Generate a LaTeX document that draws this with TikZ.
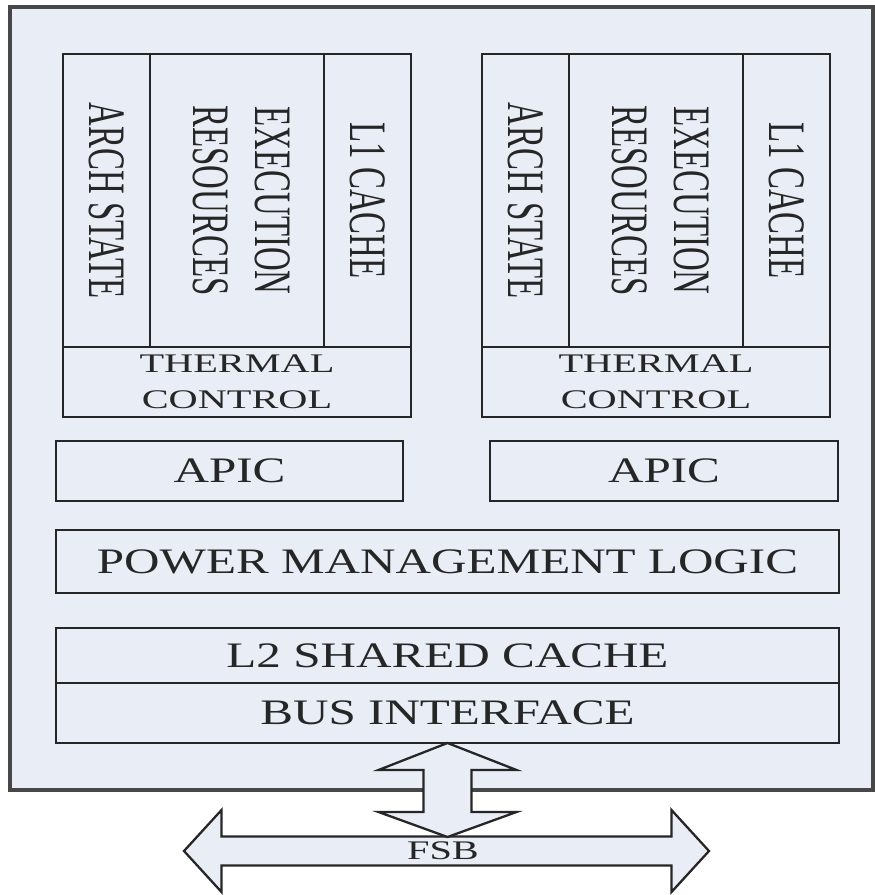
\documentclass[tikz,border=0pt]{standalone}
\usepackage{fontspec}
\setmainfont{Liberation Serif}
\usetikzlibrary{positioning}

\definecolor{chipfill}{HTML}{E8EDF6}
\definecolor{ink}{HTML}{262626}

% stretched labels, as in the printed figure
\newcommand{\hlabel}[1]{\scalebox{1.37}[1]{#1}}
\newcommand{\tlabel}[1]{\scalebox{1.5}[1]{#1}}
\newcommand{\vlabel}[1]{\rotatebox{-90}{\scalebox{1}[1.6]{#1}}}

\begin{document}
\begin{tikzpicture}[
  font=\fontsize{20.4}{24}\selectfont,
  chipbox/.style={draw=black!72, line width=2pt, fill=chipfill,
                  inner sep=0pt, outer sep=0pt, anchor=north west},
  blk/.style={draw=ink, line width=1.6pt, fill=chipfill, inner sep=0pt,
              outer sep=0pt, text=ink, align=center},
  colbox/.style={blk, minimum height=5.86cm, font=\fontsize{18.7}{22}\selectfont},
  thermbox/.style={blk, minimum width=6.96cm, minimum height=1.4cm,
                   font=\fontsize{15.3}{20.4}\selectfont},
  barbox/.style={blk, minimum height=1.2cm, anchor=north west},
  busarrow/.style={draw=ink, line width=1.3pt, fill=chipfill, line join=miter},
  buslbl/.style={font=\fontsize{15.3}{18}\selectfont, text=ink, inner sep=0pt},
]

  \useasboundingbox (0,0) rectangle (17.5,-17.9);

  % Chip outline
  \node[chipbox, minimum width=17.26cm, minimum height=15.66cm] (chip) at (0.2,-0.14) {};

  % Core 1

  \node[colbox, minimum width=1.74cm, anchor=north west] (arch1) at (1.26,-1.08)
    {\vlabel{ARCH STATE}};
  \node[colbox, minimum width=3.48cm, right=0pt of arch1] (exec1)
    {\vlabel{\begin{tabular}{@{}c@{}}EXECUTION\\RESOURCES\end{tabular}}};
  \node[colbox, minimum width=1.74cm, right=0pt of exec1] (lone1)
    {\vlabel{L1 CACHE}};
  \node[thermbox, below=0pt of exec1] (therm1)
    {\tlabel{THERMAL}\\\tlabel{CONTROL}};

  % Core 2

  \node[colbox, minimum width=1.74cm, anchor=north west] (arch2) at (9.64,-1.08)
    {\vlabel{ARCH STATE}};
  \node[colbox, minimum width=3.48cm, right=0pt of arch2] (exec2)
    {\vlabel{\begin{tabular}{@{}c@{}}EXECUTION\\RESOURCES\end{tabular}}};
  \node[colbox, minimum width=1.74cm, right=0pt of exec2] (lone2)
    {\vlabel{L1 CACHE}};
  \node[thermbox, below=0pt of exec2] (therm2)
    {\tlabel{THERMAL}\\\tlabel{CONTROL}};

  % Shared blocks

  \node[barbox, minimum width=6.94cm] (apic1) at (1.12,-8.82) {\hlabel{APIC}};
  \node[barbox, minimum width=6.96cm] (apic2) at (9.80,-8.82) {\hlabel{APIC}};

  \node[barbox, minimum width=15.66cm, minimum height=1.26cm] (pml) at (1.12,-10.60)
    {\hlabel{POWER MANAGEMENT LOGIC}};

  \node[barbox, minimum width=15.66cm, minimum height=1.1cm] (ltwo) at (1.12,-12.56)
    {\hlabel{L2 SHARED CACHE}};
  \node[blk, minimum width=15.66cm, minimum height=1.2cm, below=0pt of ltwo] (bus)
    {\hlabel{BUS INTERFACE}};

  % FSB bus arrow
  \coordinate (fsbmid) at (8.93,-17.02);
  \draw[busarrow] (fsbmid) ++(-5.25,0) -- ++(0.75,0.82) -- ++(0,-0.53)
    -- ++(9,0) -- ++(0,0.53) -- ++(0.75,-0.82) -- ++(-0.75,-0.82)
    -- ++(0,0.53) -- ++(-9,0) -- ++(0,-0.53) -- cycle;

  % Bus interface <-> FSB
  \draw[busarrow] (bus.south) -- ++(1.38,-0.54) -- ++(-0.9,0) -- ++(0,-0.84)
    -- ++(0.9,0) -- ++(-1.38,-0.5) -- ++(-1.38,0.5) -- ++(0.9,0)
    -- ++(0,0.84) -- ++(-0.9,0) -- cycle;

  \node[buslbl] (fsb) at (8.86,-17.02) {\tlabel{FSB}};

\end{tikzpicture}
\end{document}
